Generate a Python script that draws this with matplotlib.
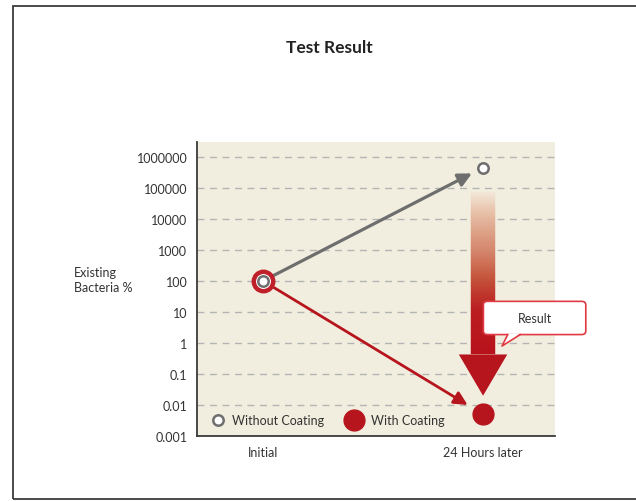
import numpy as np
import matplotlib
matplotlib.use('Agg')
import matplotlib.pyplot as plt
from matplotlib.patches import Rectangle, Polygon, FancyBboxPatch
from matplotlib.lines import Line2D

plt.rcParams['font.family'] = ['Lato', 'DejaVu Sans']

# bacteria counts (% existing) at the two time points
timepoints = ['Initial', '24 Hours later']
without_coating = [100, 450000]
with_coating = [100, 0.005]
y_ticks = [0.001, 0.01, 0.1, 1, 10, 100, 1000, 10000, 100000, 1000000]
y_tick_labels = ['0.001', '0.01', '0.1', '1', '10', '100', '1000', '10000', '100000', '1000000']

gray = '#6e6e6e'
red = '#b7151d'
cream = '#f2eedf'
text_col = '#333333'

fig = plt.figure(figsize=(6.36, 5.02), dpi=100)

# outer frame
fig.patches.append(Rectangle((13/636, 2/502), 1.0, 0.982, transform=fig.transFigure,
                             fill=False, ec='#3c3c3c', lw=1.3))

ax = fig.add_axes([197/636, 65/502, 358/636, 294/502])
ax.set_facecolor(cream)
ax.set_yscale('log')
ax.set_ylim(1e-3, 10**6.48)
ax.set_xlim(-0.3, 1.327)

x = np.arange(len(timepoints))

for t in y_ticks[1:]:
    ax.axhline(t, color='#b4b4b4', lw=1, ls=(0, (5, 4)), zorder=1)

ax.set_yticks(y_ticks)
ax.set_yticklabels(y_tick_labels)
ax.minorticks_off()
ax.set_xticks(x)
ax.set_xticklabels(timepoints)
ax.tick_params(length=0, labelsize=9, colors=text_col, pad=7)
for s in ['top', 'right']:
    ax.spines[s].set_visible(False)
for s in ['left', 'bottom']:
    ax.spines[s].set_color('#3a3a3a')
    ax.spines[s].set_linewidth(1.3)

# arrows from the initial value to the 24h values
ax.annotate('', xy=(x[1], without_coating[1]), xytext=(x[0], without_coating[0]),
            arrowprops=dict(arrowstyle='-|>,head_length=0.8,head_width=0.4', color=gray,
                            lw=2.3, shrinkA=4, shrinkB=9, mutation_scale=10), zorder=3)
ax.annotate('', xy=(x[1], with_coating[1]), xytext=(x[0], with_coating[0]),
            arrowprops=dict(arrowstyle='-|>,head_length=0.8,head_width=0.4', color=red,
                            lw=2.0, shrinkA=4, shrinkB=13, mutation_scale=10), zorder=3)

# big gradient arrow showing the reduction
top = np.log10(without_coating[1]) - 0.77
head_top = np.log10(with_coating[1]) + 1.93
tip = np.log10(with_coating[1]) + 0.6
stops = np.array([0.0, 0.13, 0.36, 0.54, 0.72, 1.0])
stop_cols = np.array([[242, 232, 218], [232, 192, 168], [212, 135, 108],
                      [196, 82, 58], [186, 30, 32], [184, 18, 28]]) / 255
n = 80
edges = np.linspace(top, head_top, n + 1)
for i in range(n):
    f = (i + 0.5) / n
    c = [np.interp(f, stops, stop_cols[:, k]) for k in range(3)]
    ax.add_patch(Rectangle((x[1] - 0.055, 10**edges[i + 1]), 0.11,
                           10**edges[i] - 10**edges[i + 1], fc=c, ec=c, lw=0.3, zorder=2))
ax.add_patch(Polygon([(x[1] - 0.11, 10**head_top), (x[1] + 0.11, 10**head_top),
                      (x[1], 10**tip)], closed=True, fc=red, ec='none', zorder=2))

# markers
ax.plot(x[0], with_coating[0], 'o', ms=14, mfc='white', mec='#c0202a', mew=3.2, zorder=5)
ax.plot(x, without_coating, 'o', ms=7.5, mfc='white', mec=gray, mew=1.8, zorder=6)
ax.plot(x[1], with_coating[1], 'o', ms=15, color=red, zorder=5)

# callout
box = FancyBboxPatch((0.80, 0.345), 0.286, 0.113, boxstyle='round,pad=0,rounding_size=0.012',
                     transform=ax.transAxes, fc='white', ec='#e23a44', lw=1.2,
                     clip_on=False, zorder=7)
ax.add_patch(box)
tail = [(0.868, 0.349), (0.903, 0.349), (0.852, 0.306)]
ax.add_patch(Polygon(tail, closed=True, transform=ax.transAxes, fc='white', ec='none',
                     clip_on=False, zorder=8))
ax.add_line(Line2D([0.868, 0.852, 0.903], [0.345, 0.306, 0.345], transform=ax.transAxes,
                   color='#e23a44', lw=1.2, clip_on=False, zorder=8))
ax.text(0.943, 0.402, 'Result', transform=ax.transAxes, ha='center', va='center',
        fontsize=9, color=text_col, zorder=9)

# legend inside the plot
ax.plot(0.059, 0.054, 'o', ms=7.5, mfc='white', mec=gray, mew=1.8,
        transform=ax.transAxes, clip_on=False, zorder=6)
ax.text(0.098, 0.054, 'Without Coating', transform=ax.transAxes, va='center',
        fontsize=9, color=text_col)
ax.plot(0.439, 0.054, 'o', ms=15, color=red, transform=ax.transAxes, zorder=6)
ax.text(0.486, 0.054, 'With Coating', transform=ax.transAxes, va='center',
        fontsize=9, color=text_col)

fig.text(74/636, 1 - 281/502, 'Existing\nBacteria %', ha='left', va='center',
         fontsize=9, color=text_col, linespacing=1.3)
fig.text(329/636, 1 - 48/502, 'Test Result', ha='center', va='center',
         fontsize=12.5, fontweight='bold', color='#222222')

fig.savefig('out.png', dpi=100)
